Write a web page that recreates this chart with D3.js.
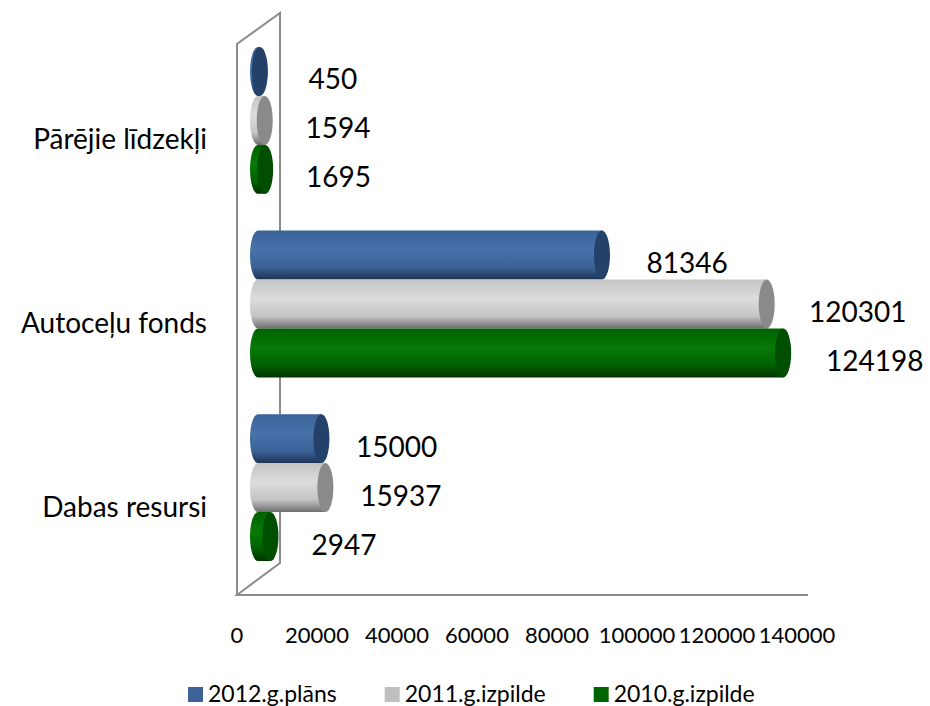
<!DOCTYPE html>
<html>
<head>
<meta charset="utf-8">
<script src="https://cdn.jsdelivr.net/npm/d3@7"></script>
<style>
  body { margin: 0; background: #fff; }
  svg { display: block; font-family: Lato, "Open Sans", sans-serif; }
</style>
</head>
<body>
<svg id="chart" width="930" height="706"></svg>
<script>
const categories = ["Pārējie līdzekļi", "Autoceļu fonds", "Dabas resursi"];
const seriesNames = ["2012.g.plāns", "2011.g.izpilde", "2010.g.izpilde"];
const plan2012 = [450, 81346, 15000];
const actual2011 = [1594, 120301, 15937];
const actual2010 = [1695, 124198, 2947];
const tickValues = [0, 20000, 40000, 60000, 80000, 100000, 120000, 140000];

const seriesValues = [plan2012, actual2011, actual2010];
const colors = [
  { dark: "#1d3456", mid: "#4773aa", light: "#3a6297", cap: "#24416a", legend: "#3d6399" },
  { dark: "#6e6e6e", mid: "#dcdcdc", light: "#c4c4c4", cap: "#8a8a8a", legend: "#bfbfbf" },
  { dark: "#003300", mid: "#087a08", light: "#006000", cap: "#004f00", legend: "#006400" }
];

const svg = d3.select("#chart");

const yBand = d3.scaleBand()
  .domain(categories)
  .range([47, 561])
  .paddingInner(0.2)
  .paddingOuter(0);

const ySeries = d3.scaleBand()
  .domain(seriesNames)
  .range([0, yBand.bandwidth()]);

// 3d projection: bars on the back plane, labels further forward
const xBar = d3.scaleLinear().domain([0, 140000]).range([258, 850]);
const xAxis = d3.scaleLinear().domain([0, 140000]).range([237, 797]);
const xLabel = d3.scaleLinear().domain([0, 140000]).range([331, 944]);

const defs = svg.append("defs");
colors.forEach((c, i) => {
  const g = defs.append("linearGradient")
    .attr("id", `grad${i}`)
    .attr("x1", 0).attr("y1", 0)
    .attr("x2", 0).attr("y2", 1);
  g.append("stop").attr("offset", "0%").attr("stop-color", c.light);
  g.append("stop").attr("offset", "40%").attr("stop-color", c.mid);
  g.append("stop").attr("offset", "75%").attr("stop-color", c.light);
  g.append("stop").attr("offset", "100%").attr("stop-color", c.dark);
});

// back wall + floor
const wall = svg.append("g")
  .attr("fill", "none")
  .attr("stroke", "#8c8c8c")
  .attr("stroke-width", 2);

wall.append("path")
  .attr("d", "M237,595 L237,44 L280,13 L280,563 L237,595 L808,595");

// cylinders
const rx = 8;
const bars = [];
categories.forEach((cat, ci) => {
  seriesNames.forEach((s, si) => {
    bars.push({ cat, series: s, si, value: seriesValues[si][ci] });
  });
});

const barG = svg.append("g")
  .selectAll("g")
  .data(bars)
  .enter()
  .append("g");

barG.append("path")
  .attr("fill", d => `url(#grad${d.si})`)
  .attr("d", d => {
    const x0 = xBar(0);
    const x1 = xBar(d.value);
    const y = yBand(d.cat) + ySeries(d.series);
    const h = ySeries.bandwidth();
    return `M${x0},${y} L${x1},${y} L${x1},${y + h} L${x0},${y + h}` +
      ` A${rx},${h / 2} 0 0 1 ${x0},${y} Z`;
  });

barG.append("ellipse")
  .attr("cx", d => xBar(d.value))
  .attr("cy", d => yBand(d.cat) + ySeries(d.series) + ySeries.bandwidth() / 2)
  .attr("rx", rx)
  .attr("ry", ySeries.bandwidth() / 2)
  .attr("fill", d => colors[d.si].cap);

// data labels
svg.append("g")
  .selectAll("text")
  .data(bars)
  .enter()
  .append("text")
  .attr("x", d => xLabel(d.value))
  .attr("y", d => yBand(d.cat) + ySeries(d.series) + ySeries.bandwidth() / 2 + 18)
  .attr("text-anchor", "middle")
  .attr("font-size", 28)
  .attr("fill", "#000")
  .text(d => d.value);

// category labels
svg.append("g")
  .selectAll("text")
  .data(categories)
  .enter()
  .append("text")
  .attr("x", 207)
  .attr("y", d => yBand(d) + yBand.bandwidth() / 2 + 29)
  .attr("text-anchor", "end")
  .attr("font-size", 28)
  .attr("fill", "#000")
  .text(d => d);

// value axis labels
svg.append("g")
  .selectAll("text")
  .data(tickValues)
  .enter()
  .append("text")
  .attr("x", d => xAxis(d))
  .attr("y", 643)
  .attr("text-anchor", "middle")
  .attr("font-size", 22)
  .attr("fill", "#000")
  .text(d => d);

// legend
const legend = svg.append("g");
let lx = 188;
seriesNames.forEach((name, i) => {
  legend.append("rect")
    .attr("x", lx)
    .attr("y", 687)
    .attr("width", 15)
    .attr("height", 15)
    .attr("fill", colors[i].legend);
  const t = legend.append("text")
    .attr("x", lx + 20)
    .attr("y", 702)
    .attr("font-size", 23)
    .attr("fill", "#000")
    .text(name);
  lx += 20 + t.node().getComputedTextLength() + 48;
});
</script>
</body>
</html>
